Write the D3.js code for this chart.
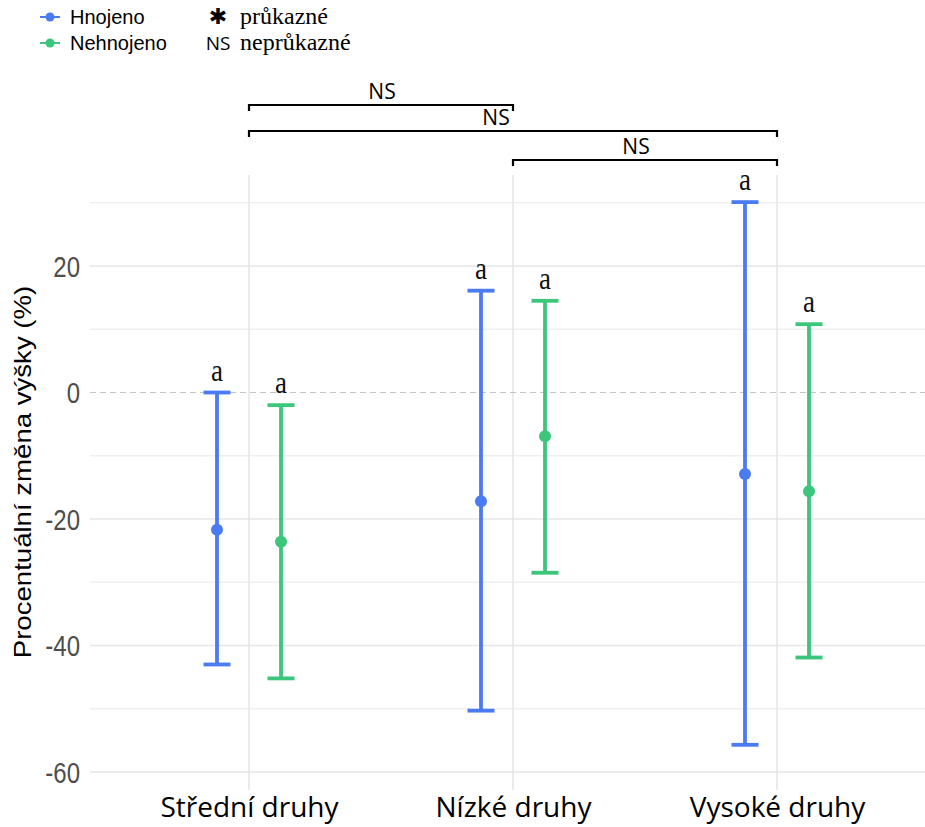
<!DOCTYPE html>
<html>
<head>
<meta charset="utf-8">
<script src="https://cdn.jsdelivr.net/npm/d3@7"></script>
<style>
  html, body { margin: 0; padding: 0; background: #fff; }
  svg { display: block; }
</style>
</head>
<body>
<script>
// Percentage change in plant height: mean with interval, by species group and fertilisation
const categories = ["Střední druhy", "Nízké druhy", "Vysoké druhy"];
const groups = ["Hnojeno", "Nehnojeno"];

const meanHnojeno   = [-21.7, -17.2, -12.9];
const lowerHnojeno  = [-43.0, -50.3, -55.7];
const upperHnojeno  = [0.0, 16.1, 30.1];

const meanNehnojeno  = [-23.6, -6.9, -15.6];
const lowerNehnojeno = [-45.2, -28.5, -41.9];
const upperNehnojeno = [-2.0, 14.5, 10.8];

const lettersHnojeno   = ["a", "a", "a"];
const lettersNehnojeno = ["a", "a", "a"];

const yTicks = [-60, -40, -20, 0, 20];
const yMinorTicks = [-50, -30, -10, 10, 30];

// pairwise comparisons between categories (index pairs)
const compFrom   = [0, 0, 1];
const compTo     = [1, 2, 2];
const compLabels = ["NS", "NS", "NS"];

const legendSymbols = ["✱", "NS"];
const legendMeanings = ["průkazné", "neprůkazné"];

const colors = { "Hnojeno": "#4a7bf2", "Nehnojeno": "#3cc67c" };

const W = 925, H = 827;
const TEXT_STRETCH = 1.2; // plot text is drawn slightly taller than wide
const svg = d3.select("body").append("svg").attr("width", W).attr("height", H);

const panel = { left: 90, right: 925, top: 175, bottom: 790 };

const x = d3.scalePoint().domain(categories).range([249, 777]).padding(0);
const dodge = d3.scalePoint().domain(groups).range([-32, 32]);
const y = d3.scaleLinear().domain([-60, 20]).range([772, 266]);

const rows = [];
categories.forEach((c, i) => {
  rows.push({ cat: c, grp: "Hnojeno", mean: meanHnojeno[i], lo: lowerHnojeno[i], hi: upperHnojeno[i], letter: lettersHnojeno[i] });
  rows.push({ cat: c, grp: "Nehnojeno", mean: meanNehnojeno[i], lo: lowerNehnojeno[i], hi: upperNehnojeno[i], letter: lettersNehnojeno[i] });
});

// grid
const grid = svg.append("g");
grid.selectAll("line.minor").data(yMinorTicks).join("line")
  .attr("x1", panel.left).attr("x2", panel.right)
  .attr("y1", d => y(d)).attr("y2", d => y(d))
  .attr("stroke", "#efefef").attr("stroke-width", 1.3);
grid.selectAll("line.major").data(yTicks.filter(t => t !== 0)).join("line")
  .attr("x1", panel.left).attr("x2", panel.right)
  .attr("y1", d => y(d)).attr("y2", d => y(d))
  .attr("stroke", "#e6e6e6").attr("stroke-width", 1.6);
grid.selectAll("line.v").data(categories).join("line")
  .attr("x1", d => x(d)).attr("x2", d => x(d))
  .attr("y1", panel.top).attr("y2", panel.bottom)
  .attr("stroke", "#e6e6e6").attr("stroke-width", 1.6);

// zero reference line
svg.append("line")
  .attr("x1", panel.left).attr("x2", panel.right)
  .attr("y1", y(0)).attr("y2", y(0))
  .attr("stroke", "#c4c4c4").attr("stroke-width", 1.2)
  .attr("stroke-dasharray", "6,4");

// y axis labels
const yAxis = d3.axisLeft(y).tickValues(yTicks).tickFormat(d => String(d)).tickSize(0).tickPadding(0);
const yg = svg.append("g").attr("transform", "translate(80,0)").call(yAxis);
yg.select(".domain").remove();
yg.selectAll(".tick text")
  .attr("x", null).attr("dy", "0.36em")
  .attr("transform", `scale(1,${TEXT_STRETCH})`)
  .attr("fill", "#4d4d4d")
  .style("font-family", "Liberation Sans, Arial, sans-serif")
  .style("font-size", "24px");

// y axis title
svg.append("g").attr("transform", `translate(31,472) scale(1,${TEXT_STRETCH})`)
  .append("text")
  .attr("transform", "rotate(-90)")
  .attr("text-anchor", "middle")
  .style("font-family", "Liberation Sans, Arial, sans-serif")
  .style("font-size", "23px")
  .attr("fill", "#000")
  .text("Procentuální změna výšky (%)");

// x axis labels
const xAxis = d3.axisBottom(x).tickSize(0).tickPadding(0);
const xg = svg.append("g").attr("transform", "translate(0,792)").call(xAxis);
xg.select(".domain").remove();
xg.selectAll("text")
  .attr("fill", "#000")
  .attr("dy", "0.9em")
  .style("font-family", "Open Sans, sans-serif")
  .style("font-size", "28px");

// error bars
const capHalf = 13.5;
const eb = svg.append("g").selectAll("g").data(rows).join("g")
  .attr("transform", d => `translate(${x(d.cat) + dodge(d.grp)},0)`)
  .attr("stroke", d => colors[d.grp]).attr("fill", d => colors[d.grp]);
eb.append("line").attr("y1", d => y(d.lo)).attr("y2", d => y(d.hi)).attr("stroke-width", 3.8);
eb.append("line").attr("x1", -capHalf).attr("x2", capHalf)
  .attr("y1", d => y(d.hi)).attr("y2", d => y(d.hi)).attr("stroke-width", 3.8);
eb.append("line").attr("x1", -capHalf).attr("x2", capHalf)
  .attr("y1", d => y(d.lo)).attr("y2", d => y(d.lo)).attr("stroke-width", 3.8);
eb.append("circle").attr("cy", d => y(d.mean)).attr("r", 6).attr("stroke", "none");

// significance letters
svg.append("g").selectAll("text").data(rows).join("text")
  .attr("transform", d => `translate(${x(d.cat) + dodge(d.grp)},${y(d.hi) - 12}) scale(1,${TEXT_STRETCH})`)
  .attr("text-anchor", "middle")
  .style("font-family", "Liberation Serif, Times New Roman, serif")
  .style("font-size", "27px")
  .attr("fill", "#111")
  .text(d => d.letter);

// comparison brackets
const bracketY = [105, 131, 160];
const br = svg.append("g");
compFrom.forEach((f, i) => {
  const x1 = x(categories[f]), x2 = x(categories[compTo[i]]), by = bracketY[i];
  br.append("path")
    .attr("d", `M${x1},${by + 6}V${by}H${x2}V${by + 6}`)
    .attr("fill", "none").attr("stroke", "#000").attr("stroke-width", 2.2);
});
const labelX = [382, 496, 636];
br.selectAll("text").data(compLabels).join("text")
  .attr("x", (d, i) => labelX[i])
  .attr("y", (d, i) => bracketY[i] - 6)
  .attr("text-anchor", "middle")
  .style("font-family", "Open Sans, sans-serif")
  .style("font-size", "21px")
  .attr("fill", "#000")
  .text(d => d);

// legend: groups
const lg = svg.append("g");
groups.forEach((g, i) => {
  const ly = 17 + i * 26;
  lg.append("line").attr("x1", 40).attr("x2", 60).attr("y1", ly).attr("y2", ly)
    .attr("stroke", colors[g]).attr("stroke-width", 2);
  lg.append("circle").attr("cx", 50).attr("cy", ly).attr("r", 4.5).attr("fill", colors[g]);
  lg.append("text").attr("x", 70).attr("y", ly).attr("dy", "0.35em")
    .style("font-family", "Liberation Sans, Arial, sans-serif")
    .style("font-size", "20px").attr("fill", "#000").text(g);
});

// legend: significance symbols
legendSymbols.forEach((s, i) => {
  const star = i === 0;
  lg.append("text").attr("x", 218).attr("y", star ? 23.5 : 50)
    .attr("text-anchor", "middle")
    .style("font-family", star ? "DejaVu Sans, sans-serif" : "Open Sans, sans-serif")
    .style("font-size", star ? "22px" : "19px")
    .attr("fill", "#000").text(s);
  lg.append("text").attr("x", 240).attr("y", 17 + i * 26).attr("dy", "0.3em")
    .style("font-family", "Liberation Serif, Times New Roman, serif")
    .style("font-size", "24px").attr("fill", "#000").text(legendMeanings[i]);
});
</script>
</body>
</html>
